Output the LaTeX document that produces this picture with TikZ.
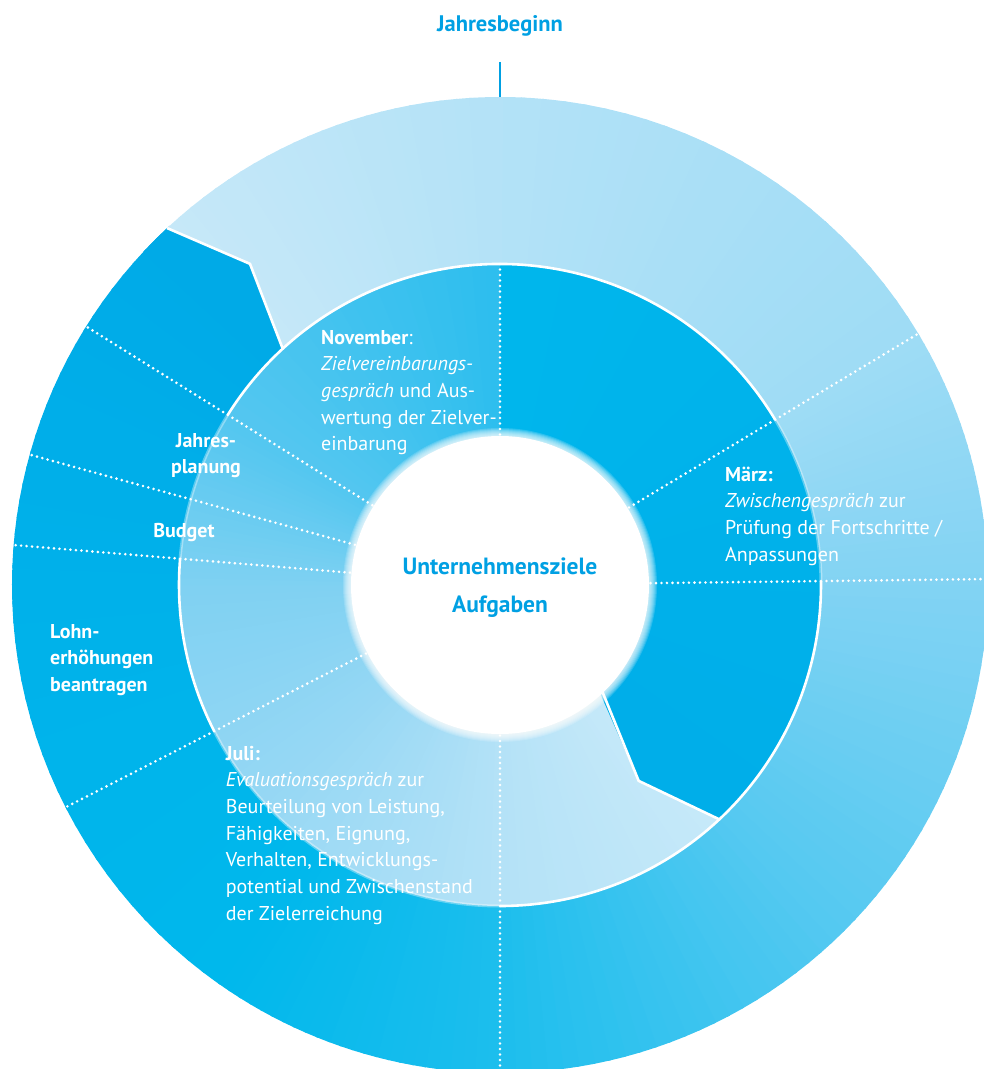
\documentclass[tikz,border=0pt]{standalone}
\usepackage{fontspec}
\setmainfont{PT Sans}
\usepackage{tikz}
\usetikzlibrary{calc}
\definecolor{cCyan}{RGB}{0,160,227}
% outer ring, clockwise from the top left
\definecolor{cOutA}{HTML}{C6E8F8}
\definecolor{cOutB}{HTML}{B3E2F7}
\definecolor{cOutC}{HTML}{9FDCF5}
\definecolor{cOutD}{HTML}{82D3F3}
\definecolor{cOutE}{HTML}{55C9F1}
\definecolor{cOutF}{HTML}{1DBEED}
\definecolor{cOutG}{HTML}{00B8EC}
\definecolor{cOutH}{HTML}{00B1EA}
\definecolor{cOutI}{HTML}{00AAE7}
% middle ring, clockwise from the lower right
\definecolor{cMidA}{HTML}{C6E9F9}
\definecolor{cMidB}{HTML}{B4E2F7}
\definecolor{cMidC}{HTML}{98D8F4}
\definecolor{cMidD}{HTML}{7FD1F2}
\definecolor{cMidE}{HTML}{55C7F0}
\definecolor{cMidF}{HTML}{2DBEEE}
\definecolor{cMidG}{HTML}{00B6EC}
\definecolor{cMidH}{HTML}{00AEE9}
\tikzset{
	rim/.style  ={white, line width=2.6pt},
	glow/.style ={white, opacity=0.35, line width=3pt},
	spoke/.style={white, line width=2.9pt, line cap=round, dash pattern=on 0pt off 5.5pt},
	note/.style ={text=white, align=left, inner sep=0pt, font=\fontsize{20}{26.7}\selectfont},
	tag/.style  ={note, font=\fontsize{20}{26.7}\selectfont\bfseries},
	hub/.style  ={text=cCyan, align=center, inner sep=0pt, font=\fontsize{23.5}{38}\selectfont\bfseries},
}
% ring sector #3 -> #4 (deg) between radii #1 and #2, colour #5 -> #6
\newcommand{\ringpart}[6]{%
	\foreach \k in {0,...,23}{%
		\pgfmathsetmacro{\aa}{#3+(#4-#3)*\k/24}%
		\pgfmathsetmacro{\ab}{#3+(#4-#3)*(\k+1.2)/24}%
		\pgfmathsetmacro{\pc}{100-100*(\k+0.5)/24}%
		\fill[#5!\pc!#6] (\aa:#2) arc[start angle=\aa, end angle=\ab, radius=#2]
			-- (\ab:#1) arc[start angle=\ab, end angle=\aa, radius=#1] -- cycle;
	}}

\begin{document}
\begin{tikzpicture}[x=1pt, y=1pt]
	\useasboundingbox (-500,-484) rectangle (484,585);
	\clip (-500,-484) rectangle (484,585);

	% outer ring (first part last, so nothing spills over its start)
	\ringpart{320}{488}{90}{31}{cOutB}{cOutC}
	\ringpart{320}{488}{31}{0}{cOutC}{cOutD}
	\ringpart{320}{488}{0}{-45}{cOutD}{cOutE}
	\ringpart{320}{488}{-45}{-90}{cOutE}{cOutF}
	\ringpart{320}{488}{-90}{-125}{cOutF}{cOutG}
	\ringpart{320}{488}{-125}{-180}{cOutG}{cOutH}
	\ringpart{320}{488}{-180}{-227}{cOutH}{cOutI}
	\ringpart{320}{488}{133}{90}{cOutA}{cOutB}
	\fill[cOutI] (133:488) -- (127.9:407) -- (132.6:321) arc[start angle=132.6, end angle=137, radius=321]
		-- (137:488) arc[start angle=137, end angle=133, radius=488] -- cycle;
	\draw[rim] (133:488) -- (127.9:407) -- (132.6:321);

	% middle ring
	\ringpart{140}{321}{-90}{-135}{cMidB}{cMidC}
	\ringpart{140}{321}{-135}{-180}{cMidC}{cMidD}
	\ringpart{140}{321}{-180}{-210}{cMidD}{cMidE}
	\ringpart{140}{321}{-210}{-270}{cMidE}{cMidF}
	\ringpart{140}{321}{-270}{-407}{cMidG}{cMidH}
	\ringpart{140}{321}{-47}{-90}{cMidA}{cMidB}
	\fill[cMidH] (-46.9:321) -- (-54.7:240) -- (-46.2:140) arc[start angle=-46.2, end angle=-40, radius=140]
		-- (-40:321) arc[start angle=-40, end angle=-46.9, radius=321] -- cycle;
	\draw[rim] (-46.9:321) -- (-54.7:240) -- (-46.2:148);

	% edge of the middle ring
	\draw[rim] (31:321) arc[start angle=31, end angle=148, radius=321];
	\draw[rim] (0.7:321) arc[start angle=0.7, end angle=-90, radius=321];
	\draw[rim] (175.3:321) arc[start angle=175.3, end angle=207.1, radius=321];
	\draw[glow] (31:321) arc[start angle=31, end angle=0.7, radius=321];
	\draw[glow] (148:321) arc[start angle=148, end angle=175.3, radius=321];
	\draw[glow] (207.1:321) arc[start angle=207.1, end angle=270, radius=321];

	% dotted spokes
	\draw[spoke] (90:145) -- (90:321);
	\foreach \a in {31, 0.7, 270, 207.1, 175.3, 164.5, 148}
		\draw[spoke] (\a:145) -- (\a:488);

	% white hub with soft edge
	\foreach \r in {157,...,150}
		\fill[white, opacity=0.16] (0,0) circle[radius=\r];
	\fill[white] (0,0) circle[radius=149];

	\node[hub, anchor=base, font=\fontsize{22.5}{26}\selectfont\bfseries] (jb) at (0,553.5) {Jahresbeginn};
	\coordinate (tick) at (0,523); \coordinate (top) at (90:488);
	\draw[cCyan, line width=2.4pt] (tick) -- (top);

	% multi-line nodes sit on the baseline of their last line
	\node[hub, anchor=base] (goal) at (0,-27) {Unternehmensziele\\Aufgaben};

	\node[note, anchor=base west] (nov) at (-179,134.2) {\textbf{November}:\\\textit{Zielvereinbarungs-}\\\textit{gespräch} und Aus-\\wertung der Zielver-\\einbarung};
	\node[note, anchor=base west] (mar) at (225,23.9) {\textbf{März:}\\\textit{Zwischengespräch} zur\\Prüfung der Fortschritte /\\Anpassungen};
	\node[note, anchor=base west] (jul) at (-274.3,-335.2) {\textbf{Juli:}\\\textit{Evaluationsgespräch} zur\\Beurteilung von Leistung,\\Fähigkeiten, Eignung,\\Verhalten, Entwicklungs-\\potential und Zwischenstand\\der Zielerreichung};
	\node[tag, align=center, anchor=base] (plan) at (-294,111.3) {Jahres-\\planung};
	\node[tag, anchor=base] (budget) at (-316,48) {Budget};
	\node[tag, anchor=base west] (lohn) at (-450,-106.4) {Lohn-\\erhöhungen\\beantragen};
\end{tikzpicture}
\end{document}
